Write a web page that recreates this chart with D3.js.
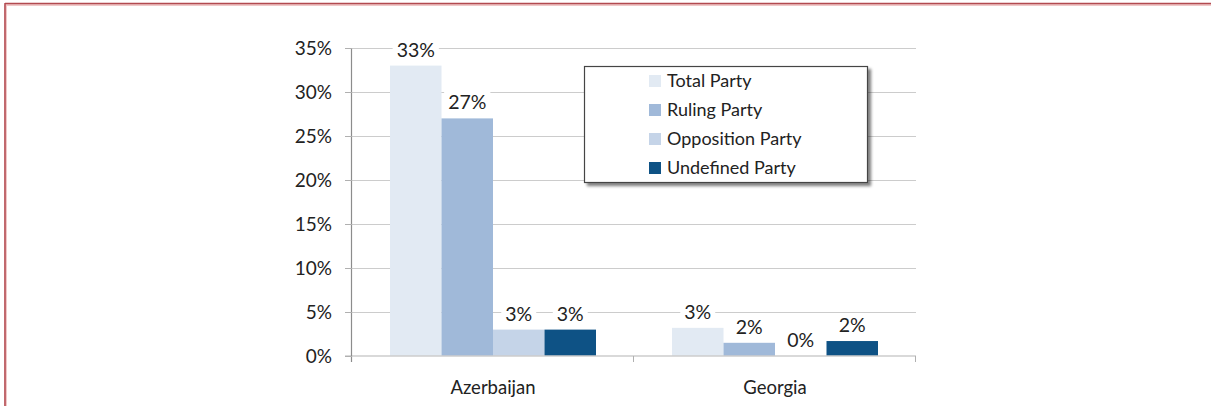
<!DOCTYPE html>
<html><head><meta charset="utf-8">
<script src="https://cdn.jsdelivr.net/npm/d3@7"></script>
<style>
html,body{margin:0;padding:0;background:#fff;}
svg{display:block;font-family:Lato, "Open Sans", sans-serif;}
</style></head>
<body>
<svg id="c" width="1211" height="406"></svg>
<script>
const categories = ["Azerbaijan", "Georgia"];
const seriesNames = ["Total Party", "Ruling Party", "Opposition Party", "Undefined Party"];
const totalParty = [33, 3.2];
const rulingParty = [27, 1.5];
const oppositionParty = [3, 0];
const undefinedParty = [3, 1.7];
const valueLabels = [["33%", "27%", "3%", "3%"], ["3%", "2%", "0%", "2%"]];
const yTicks = [0, 5, 10, 15, 20, 25, 30, 35];
const colors = ["#e2eaf3", "#a0b9d9", "#c5d4e8", "#0e5285"];

const seriesValues = [totalParty, rulingParty, oppositionParty, undefinedParty];
const svg = d3.select("#c");

// frame
svg.append("line").attr("x1",5.5).attr("x2",1211).attr("y1",4.5).attr("y2",4.5).attr("stroke","#f0c8c8").attr("stroke-width",3);
svg.append("line").attr("x1",5.5).attr("x2",5.5).attr("y1",4.5).attr("y2",406).attr("stroke","#f0c8c8").attr("stroke-width",3);
svg.append("line").attr("x1",5).attr("x2",1211).attr("y1",3.5).attr("y2",3.5).attr("stroke","#b24a50").attr("stroke-width",1.5);
svg.append("line").attr("x1",5).attr("x2",5).attr("y1",3).attr("y2",406).attr("stroke","#b24a50").attr("stroke-width",1.5);

const y = d3.scaleLinear().domain([0,35]).range([356,48]);
const x0 = d3.scaleBand().domain(categories).range([352,916]).padding(0);
const x1 = d3.scaleBand().domain(seriesNames).range([38,244]).padding(0);

// gridlines
svg.append("g").selectAll("line").data(yTicks.filter(d=>d>0)).join("line")
  .attr("x1",345).attr("x2",916).attr("y1",d=>Math.round(y(d))+0.5).attr("y2",d=>Math.round(y(d))+0.5)
  .attr("stroke","#cccccc").attr("stroke-width",1.2);

// y axis labels
svg.append("g").selectAll("text").data(yTicks).join("text")
  .attr("x",332).attr("y",d=>y(d)).attr("dy","0.35em").attr("text-anchor","end")
  .attr("font-size",19).attr("fill","#222").text(d=>d+"%");

// bars
const groups = svg.append("g").selectAll("g").data(categories).join("g")
  .attr("transform",c=>`translate(${x0(c)},0)`);
groups.each(function(c,ci){
  const g = d3.select(this);
  seriesNames.forEach((s,si)=>{
    const v = seriesValues[si][ci];
    g.append("rect").attr("x",x1(s)).attr("width",x1.bandwidth()).attr("y",y(v)).attr("height",y(0)-y(v)).attr("fill",colors[si]);
  });
});
// labels
groups.each(function(c,ci){
  const g = d3.select(this);
  seriesNames.forEach((s,si)=>{
    const v = seriesValues[si][ci];
    const cx = x1(s)+x1.bandwidth()/2;
    const t = g.append("text").attr("x",cx).attr("y",y(v)-9).attr("text-anchor","middle")
      .attr("font-size",19.5).attr("fill","#222").text(valueLabels[ci][si]);
    const bb = t.node().getBBox();
    g.insert("rect", function(){return t.node();}).attr("x",bb.x-4).attr("y",bb.y+1).attr("width",bb.width+8).attr("height",bb.height-2).attr("fill","#fff");
  });
});

// axes lines
svg.append("line").attr("x1",345).attr("x2",916).attr("y1",356).attr("y2",356).attr("stroke","#cccccc").attr("stroke-width",1.5);
svg.append("line").attr("x1",351.5).attr("x2",351.5).attr("y1",48).attr("y2",362).attr("stroke","#8c8c8c").attr("stroke-width",1.2);
svg.append("g").selectAll("line").data(yTicks).join("line")
  .attr("x1",345).attr("x2",352).attr("y1",d=>Math.round(y(d))+0.5).attr("y2",d=>Math.round(y(d))+0.5).attr("stroke","#b0b0b0");
svg.append("g").selectAll("line").data(categories).join("line")
  .attr("x1",c=>x0(c)+x0.bandwidth()-0.5).attr("x2",c=>x0(c)+x0.bandwidth()-0.5).attr("y1",356).attr("y2",362).attr("stroke","#b0b0b0");

// x labels
svg.append("g").selectAll("text").data(categories).join("text")
  .attr("x",c=>x0(c)+x0.bandwidth()/2).attr("y",388).attr("dy","0.35em").attr("text-anchor","middle")
  .attr("font-size",18.5).attr("fill","#222").text(c=>c);

// legend
const defs = svg.append("defs");
const f = defs.append("filter").attr("id","sh").attr("x","-10%").attr("y","-10%").attr("width","130%").attr("height","140%");
f.append("feGaussianBlur").attr("in","SourceAlpha").attr("stdDeviation",1.5).attr("result","b");
f.append("feOffset").attr("in","b").attr("dx",3).attr("dy",3).attr("result","o");
f.append("feComponentTransfer").attr("in","o").attr("result","o2").append("feFuncA").attr("type","linear").attr("slope",0.5);
const m = f.append("feMerge"); m.append("feMergeNode").attr("in","o2"); m.append("feMergeNode").attr("in","SourceGraphic");

const lg = svg.append("g");
lg.append("rect").attr("x",584.5).attr("y",66.5).attr("width",283).attr("height",116)
  .attr("fill","#fff").attr("stroke","#444").attr("stroke-width",1.2).attr("filter","url(#sh)");
const ly = d3.scalePoint().domain(seriesNames).range([81,168]);
lg.selectAll("rect.sw").data(seriesNames).join("rect").attr("class","sw")
  .attr("x",649).attr("y",s=>ly(s)-6).attr("width",12).attr("height",12).attr("fill",(s,i)=>colors[i]);
lg.selectAll("text").data(seriesNames).join("text")
  .attr("x",667).attr("y",s=>ly(s)).attr("dy","0.35em").attr("font-size",18).attr("fill","#222").text(s=>s);
</script>
</body></html>
